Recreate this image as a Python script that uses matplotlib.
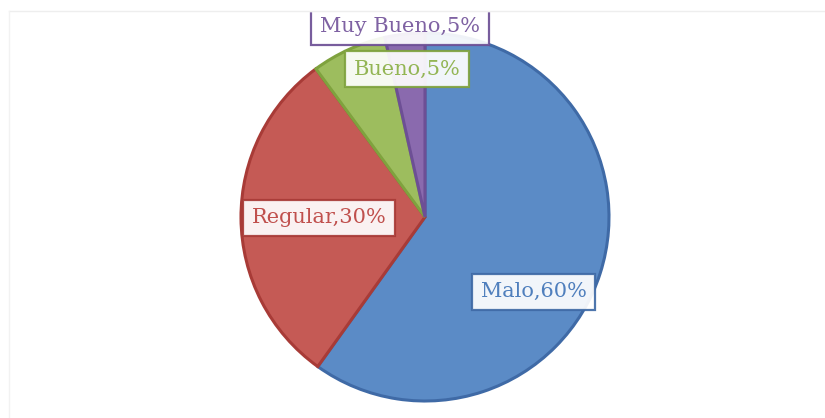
import numpy as np
import matplotlib
matplotlib.use("Agg")
import matplotlib.pyplot as plt

# data (slice shares, labels as printed)
categories = ["Malo", "Regular", "Bueno", "Muy Bueno"]
shares     = [59.9, 30.0, 6.6, 3.5]
label_pct  = ["60%", "30%", "5%", "5%"]

fills  = ["#5b8bc6", "#c55a55", "#9dbd5e", "#8a6aae"]
edges  = ["#3f6aa6", "#a83b37", "#7fa23e", "#6d4f95"]
tcols  = ["#4f7fbd", "#c0504d", "#93b554", "#7f62a3"]

# label placement: (radius in px, angle in degrees)
label_pos = [(132, -34.5), (106, 180.5), (149, 97.0), (192, 97.5)]

W, H = 825, 418
fig = plt.figure(figsize=(W / 100, H / 100), dpi=100, facecolor="white")
ax = fig.add_axes([0, 0, 1, 1])

cx, cy, R = 425, H - 217, 184

wedges, _ = ax.pie(shares, colors=fills, startangle=90, counterclock=False,
                   center=(cx, cy), radius=R, frame=True,
                   wedgeprops=dict(linewidth=2.2))
for w, ec in zip(wedges, edges):
    w.set_edgecolor(ec)
ax.set_xlim(0, W)
ax.set_ylim(0, H)
ax.set_aspect("equal")
ax.axis("off")

for cat, pct, (r, a), tc, ec in zip(categories, label_pct, label_pos, tcols, edges):
    x = cx + r * np.cos(np.radians(a))
    y = cy + r * np.sin(np.radians(a))
    ax.text(x, y, f"{cat},{pct}", ha="center", va="center", color=tc,
            fontsize=15, family="DejaVu Serif", zorder=5,
            bbox=dict(boxstyle="square,pad=0.42", facecolor="white",
                      alpha=0.92, edgecolor=ec, linewidth=1.6))

# top strip cut off by the chart frame, plus the faint frame itself
ax.axhspan(H - 11, H, color="white", zorder=10)
ax.plot([9, W], [H - 11, H - 11], color="#eeeeee", lw=1, zorder=11)
ax.plot([9, 9], [0, H - 11], color="#f2f2f2", lw=1, zorder=11)

fig.savefig("out.png", dpi=100, facecolor="white")
